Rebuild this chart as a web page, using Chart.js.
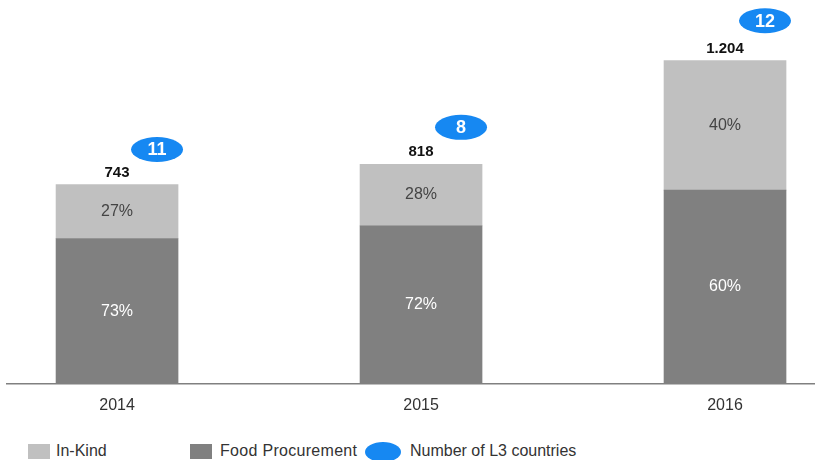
<!DOCTYPE html>
<html>
<head>
<meta charset="utf-8">
<script src="https://cdn.jsdelivr.net/npm/chart.js@4"></script>
<style>
  html, body { margin: 0; padding: 0; background: #fff; }
  body { width: 815px; height: 460px; position: relative; overflow: hidden; font-family: "Liberation Sans", Arial, sans-serif; }
  .chart-box { position: absolute; left: 0; top: 0; width: 815px; height: 430px; }
  .legend { position: absolute; top: 442px; left: 0; height: 18px; font-size: 16px; color: #333; }
  .legend span { position: absolute; white-space: nowrap; line-height: 18px; }
  .legend .sq { width: 22px; height: 15px; top: 2px; }
  .legend .ell { width: 36px; height: 20px; top: 0; border-radius: 50%; background: #1688f2; }
</style>
</head>
<body>
<div class="chart-box"><canvas id="chart"></canvas></div>
<div class="legend">
  <span class="sq" style="left:28px;background:#c0c0c0"></span>
  <span style="left:56px">In-Kind</span>
  <span class="sq" style="left:190px;background:#808080"></span>
  <span style="left:220px;letter-spacing:0.3px">Food Procurement</span>
  <span class="ell" style="left:365px"></span>
  <span style="left:410px">Number of L3 countries</span>
</div>
<script>
// values
const years = ['2014', '2015', '2016'];
const foodProcurement = [542, 589, 722];
const inKind = [201, 229, 482];
const foodShare = ['73%', '72%', '60%'];
const inKindShare = ['27%', '28%', '40%'];
const totals = ['743', '818', '1.204'];
const l3Countries = [11, 8, 12];

const FONT = '"Liberation Sans", Arial, sans-serif';

const labelPlugin = {
  id: 'barLabels',
  afterDatasetsDraw(chart) {
    const ctx = chart.ctx;
    ctx.save();
    ctx.textAlign = 'center';
    ctx.textBaseline = 'middle';

    // percentages inside the segments
    const shares = [foodShare, inKindShare];
    const colors = ['#ffffff', '#444444'];
    chart.data.datasets.forEach((ds, d) => {
      const meta = chart.getDatasetMeta(d);
      meta.data.forEach((bar, i) => {
        ctx.fillStyle = colors[d];
        ctx.font = '16px ' + FONT;
        ctx.fillText(shares[d][i], bar.x, (bar.y + bar.base) / 2);
      });
    });

    // totals and L3 bubbles above the top segment
    const top = chart.getDatasetMeta(chart.data.datasets.length - 1);
    const lift = [35, 37, 40];
    top.data.forEach((bar, i) => {
      ctx.fillStyle = '#111';
      ctx.font = 'bold 15px ' + FONT;
      ctx.fillText(totals[i], bar.x, bar.y - 12);

      const cx = bar.x + 40, cy = bar.y - lift[i];
      ctx.beginPath();
      ctx.ellipse(cx, cy, 26, 12.5, 0, 0, Math.PI * 2);
      ctx.fillStyle = '#1688f2';
      ctx.fill();
      ctx.fillStyle = '#ffffff';
      ctx.font = 'bold 18px ' + FONT;
      ctx.fillText(String(l3Countries[i]), cx, cy + 1);
    });
    ctx.restore();
  }
};

new Chart(document.getElementById('chart'), {
  type: 'bar',
  plugins: [labelPlugin],
  data: {
    datasets: [
      {
        label: 'Food Procurement',
        data: foodProcurement.map((v, i) => ({ x: i, y: v })),
        backgroundColor: '#808080',
        borderWidth: 0,
        barThickness: 122,
      },
      {
        label: 'In-Kind',
        data: inKind.map((v, i) => ({ x: i, y: v })),
        backgroundColor: '#c0c0c0',
        borderWidth: 0,
        barThickness: 122,
      },
    ],
  },
  options: {
    responsive: true,
    maintainAspectRatio: false,
    animation: false,
    layout: { padding: { left: 7, right: 0, top: 0, bottom: 0 } },
    plugins: {
      legend: { display: false },
      tooltip: { enabled: false },
    },
    scales: {
      x: {
        type: 'linear',
        stacked: true,
        offset: false,
        bounds: 'data',
        min: -0.362,
        max: 2.296,
        grid: { display: false, drawTicks: false, offset: false },
        border: { display: true, color: '#808080', width: 1.5 },
        afterDataLimits: (axis) => { axis.min = -0.362; axis.max = 2.296; },
        afterBuildTicks: (axis) => { axis.ticks = years.map((_, i) => ({ value: i })); },
        afterFit: (axis) => { axis.height = 46; },
        ticks: {
          padding: 12,
          color: '#333',
          font: { family: FONT, size: 16 },
          callback: (value) => years[value],
        },
      },
      y: {
        stacked: true,
        display: false,
        min: 0,
        max: 1430,
      },
    },
  },
});
</script>
</body>
</html>
